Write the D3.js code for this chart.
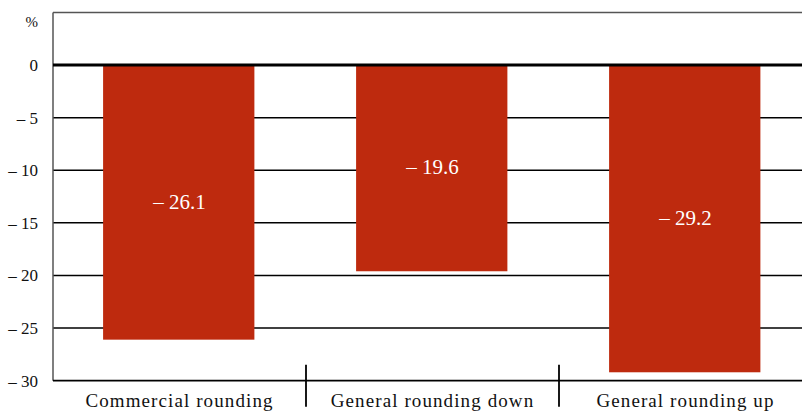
<!DOCTYPE html>
<meta charset="utf-8">
<style>
  body { margin: 0; background: #fff; }
  svg { display: block; }
  text { font-family: "Liberation Serif", "Times New Roman", serif; }
  .grid line { stroke: #000; stroke-width: 1.5px; }
  .yAxis text { font-size: 17px; fill: #111; }
  .catLabel { font-size: 19px; fill: #111; letter-spacing: 1.1px; }
  .valLabel { font-size: 21px; fill: #fff; }
</style>
<body>
<script src="https://d3js.org/d3.v7.min.js"></script>
<script>

// data
var categories = ["Commercial rounding", "General rounding down", "General rounding up"];
var values = [-26.1, -19.6, -29.2];
var yTicks = [0, -5, -10, -15, -20, -25, -30];

var width = 802, height = 412;
var plotLeft = 53, plotTop = 12.4, plotBottom = 380.7, bandW = 253;

var svg = d3.select("body").append("svg")
    .attr("width", width)
    .attr("height", height);

var x = d3.scaleBand()
    .domain(categories)
    .range([plotLeft, plotLeft + bandW * categories.length])
    .padding(0);

var y = d3.scaleLinear()
    .domain([-30, 5])
    .range([plotBottom, plotTop]);

// en dash for negatives, like the original
var fmt = function(v) { return v < 0 ? "\u2013 " + d3.format(".1f")(-v).replace(/\.0$/, "") : String(v); };

// gridlines (behind bars)
svg.append("g").attr("class", "grid")
  .selectAll("line")
  .data(yTicks.filter(function(d) { return d < 0 && d > -30; }))
  .enter().append("line")
    .attr("x1", plotLeft).attr("x2", width)
    .attr("y1", function(d) { return y(d); })
    .attr("y2", function(d) { return y(d); });

// bars
svg.selectAll("rect.bar")
  .data(values)
  .enter().append("rect")
    .attr("class", "bar")
    .attr("x", function(d, i) { return x(categories[i]) + x.bandwidth() * 0.198; })
    .attr("width", x.bandwidth() * 0.598)
    .attr("y", y(0))
    .attr("height", function(d) { return y(d) - y(0); })
    .attr("fill", "#be2a0e");

// value labels
svg.selectAll("text.valLabel")
  .data(values)
  .enter().append("text")
    .attr("class", "valLabel")
    .attr("x", function(d, i) { return x(categories[i]) + x.bandwidth() / 2; })
    .attr("y", function(d) { return y(d / 2); })
    .attr("dy", "0.3em")
    .attr("text-anchor", "middle")
    .text(function(d) { return fmt(d); });

// frame: top border and left axis
svg.append("line")
    .attr("x1", plotLeft).attr("x2", width)
    .attr("y1", plotTop).attr("y2", plotTop)
    .attr("stroke", "#555").attr("stroke-width", 1.5);
svg.append("line")
    .attr("x1", plotLeft).attr("x2", plotLeft)
    .attr("y1", plotTop).attr("y2", plotBottom)
    .attr("stroke", "#555").attr("stroke-width", 1.5);

// zero line and bottom axis line
svg.append("line")
    .attr("x1", plotLeft).attr("x2", width)
    .attr("y1", y(0)).attr("y2", y(0))
    .attr("stroke", "#000").attr("stroke-width", 3);
svg.append("line")
    .attr("x1", plotLeft).attr("x2", width)
    .attr("y1", y(-30)).attr("y2", y(-30))
    .attr("stroke", "#000").attr("stroke-width", 1.8);

// y axis labels
var yAxis = svg.append("g").attr("class", "yAxis");
yAxis.selectAll("text")
  .data(yTicks)
  .enter().append("text")
    .attr("x", 38)
    .attr("y", function(d) { return y(d); })
    .attr("dy", "0.35em")
    .attr("text-anchor", "end")
    .text(function(d) { return fmt(d); });
yAxis.append("text")
    .attr("x", 38).attr("y", 22)
    .attr("dy", "0.35em")
    .attr("text-anchor", "end")
    .style("font-size", "15px")
    .text("%");

// category separators
svg.selectAll("line.sep")
  .data(categories.slice(1))
  .enter().append("line")
    .attr("class", "sep")
    .attr("x1", function(d) { return x(d); })
    .attr("x2", function(d) { return x(d); })
    .attr("y1", plotBottom - 16).attr("y2", plotBottom + 26)
    .attr("stroke", "#000").attr("stroke-width", 1.8);

// category labels
svg.selectAll("text.catLabel")
  .data(categories)
  .enter().append("text")
    .attr("class", "catLabel")
    .attr("x", function(d) { return x(d) + x.bandwidth() / 2; })
    .attr("y", 407)
    .attr("text-anchor", "middle")
    .text(function(d) { return d; });

</script>
</body>
